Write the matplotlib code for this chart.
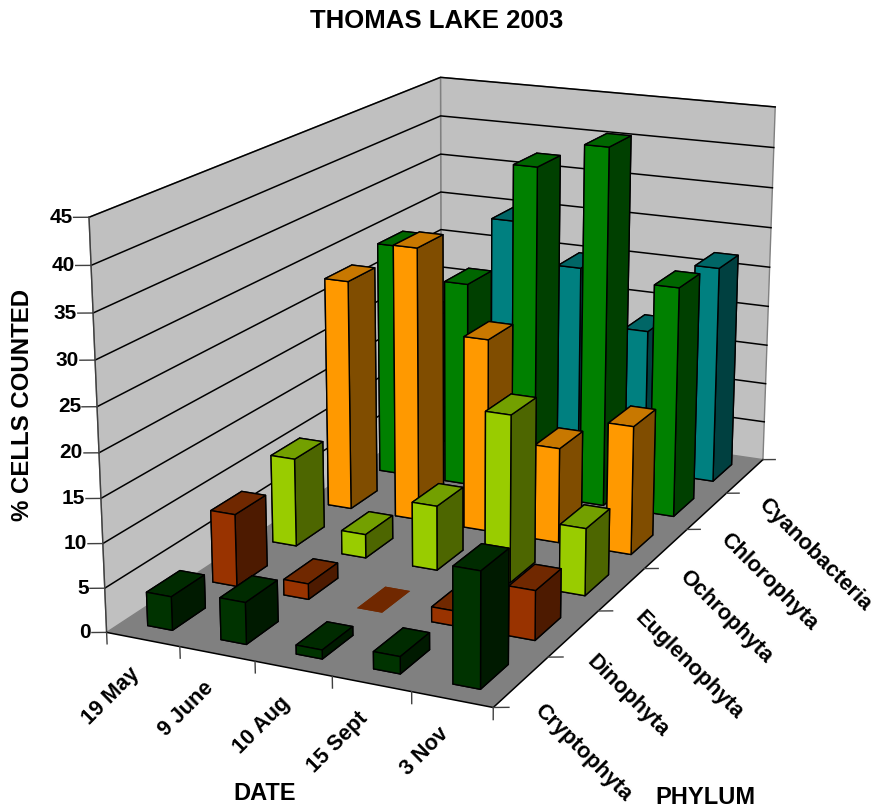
import matplotlib
matplotlib.use("Agg")
import matplotlib.pyplot as plt
from mpl_toolkits.mplot3d import proj3d
from mpl_toolkits.mplot3d.art3d import Poly3DCollection

plt.rcParams["font.family"] = ["Liberation Sans", "DejaVu Sans"]
plt.rcParams["font.weight"] = "bold"

dates = ["19 May", "9 June", "10 Aug", "15 Sept", "3 Nov"]
phyla = ["Cryptophyta", "Dinophyta", "Euglenophyta", "Ochrophyta", "Chlorophyta", "Cyanobacteria"]
z_ticks = [0, 5, 10, 15, 20, 25, 30, 35, 40, 45]

cryptophyta = [3.8, 4.7, 1, 1.9, 12.7]
dinophyta = [8.4, 1.8, 0, 1.7, 5.6]
euglenophyta = [10.5, 2.8, 7.6, 19.5, 7.8]
ochrophyta = [28, 33, 23.2, 11.4, 15.3]
chlorophyta = [29, 25.3, 40.5, 43.7, 28]
cyanobacteria = [17, 30, 25, 18, 27]
values = [cryptophyta, dinophyta, euglenophyta, ochrophyta, chlorophyta, cyanobacteria]

# front, top and side shade for each phylum
shades = [
    ("#003300", "#002b00", "#001a00"),
    ("#993300", "#702800", "#4d1a00"),
    ("#99cc00", "#73a000", "#4d6600"),
    ("#ff9900", "#c87800", "#804d00"),
    ("#008000", "#006600", "#004000"),
    ("#008080", "#006666", "#004040"),
]

nx, ny, zmax = len(dates), len(phyla), z_ticks[-1]

fig = plt.figure(figsize=(8.76, 8.10), dpi=100)
ax = fig.add_axes([0.0166, 0.052, 1.0, 1.0], projection="3d")
ax.computed_zorder = False
ax.set_proj_type("persp", focal_length=0.6)
ax.view_init(elev=16.8, azim=-65)
ax.set_xlim(0, nx)
ax.set_ylim(0, ny)
ax.set_zlim(0, zmax)
ax.set_box_aspect((4.95, 9.08, 4.98), zoom=1.1)
ax.set_axis_off()


def label3d(x, y, z, s, dx=0, dy=0, **kw):
    # 3D text ignores rotation, so annotate the projected point instead
    px, py, _ = proj3d.proj_transform(x, y, z, ax.get_proj())
    ax.annotate(s, (px, py), xytext=(dx, dy), textcoords="offset pixels", zorder=500, annotation_clip=False, **kw)


# walls and floor
walls = [
    [(0, 0, 0), (0, ny, 0), (0, ny, zmax), (0, 0, zmax)],
    [(0, ny, 0), (nx, ny, 0), (nx, ny, zmax), (0, ny, zmax)],
]
ax.add_collection3d(Poly3DCollection(walls, facecolors="#c0c0c0", edgecolors="#808080", linewidths=1, zorder=1))
floor = [[(0, 0, 0), (nx, 0, 0), (nx, ny, 0), (0, ny, 0)]]
ax.add_collection3d(Poly3DCollection(floor, facecolors="#808080", edgecolors="none", zorder=2))

for z in z_ticks:
    if z > 0:
        ax.plot([0, 0, nx], [0, ny, ny], [z, z, z], color="black", lw=1.1, zorder=3)
    ax.plot([-0.155, 0], [-0.05, 0], [z, z], color="#404040", lw=1, zorder=3)
    label3d(0, 0, z, str(z), dx=-16, ha="right", va="center", fontsize=15)

ax.plot([0, 0], [0, 0], [0, zmax], color="#404040", lw=1, zorder=3)
ax.plot([0, nx, nx], [0, 0, ny], [0, 0, 0], color="black", lw=1.1, zorder=3)
for i in range(nx + 1):
    ax.plot([i, i], [0, 0], [0, -1.3], color="#404040", lw=1, zorder=3)
for j in range(ny + 1):
    ax.plot([nx, nx + 0.155], [j, j + 0.05], [0, 0], color="#404040", lw=1, zorder=3)

for i, date in enumerate(dates):
    label3d(i + 0.5, 0, 0, date, dx=-14, dy=-24, rotation=45, rotation_mode="anchor", ha="right", va="top", fontsize=15.5)
for j, phylum in enumerate(phyla):
    label3d(nx, j + 0.5, 0, phylum, dx=24, dy=-18, rotation=-45, rotation_mode="anchor", ha="left", va="top", fontsize=15.7)

# bars, back row first so the nearer ones paint over
width, depth = 0.34, 0.5
zorder = 10
for j in range(ny - 1, -1, -1):
    front, top, side = shades[j]
    for i in range(nx):
        if values[j][i] > 0:
            # bar3d face order: bottom, top, -y, +y, -x, +x
            face_colors = [front, top, front, front, side, side]
            edge = "black"
        else:
            # a zero value is only a flat patch in the top shade
            face_colors = [top] * 6
            edge = "none"
        ax.bar3d(i + (1 - width) / 2, j + (1 - depth) / 2, 0, width, depth, values[j][i],
                 color=face_colors, edgecolor=edge, linewidth=1, shade=False, zorder=zorder)
        zorder += 1

fig.text(437 / 876, 1 - 21 / 810, "THOMAS LAKE 2003", ha="center", va="center", fontsize=18.5)
fig.text(23 / 876, 1 - 405 / 810, "% CELLS COUNTED", rotation=90, ha="center", va="center", fontsize=17.3)
fig.text(265 / 876, 1 - 793 / 810, "DATE", ha="center", va="center", fontsize=17)
fig.text(705 / 876, 1 - 798 / 810, "PHYLUM", ha="center", va="center", fontsize=17)

fig.savefig("out.png", dpi=100)
